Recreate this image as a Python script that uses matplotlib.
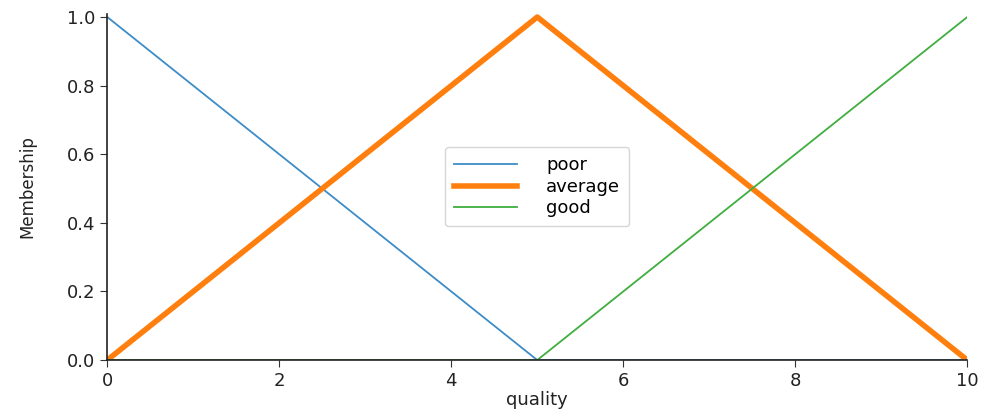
import matplotlib
matplotlib.use("Agg")
import matplotlib.pyplot as plt

# membership functions over the quality universe
quality = [0, 5, 10]
poor = [1.0, 0.0, 0.0]
average = [0.0, 1.0, 0.0]
good = [0.0, 0.0, 1.0]

fig = plt.figure(figsize=(9.84, 4.12), dpi=100)
ax = fig.add_axes([0.109, 0.126, 0.874, 0.841])

ax.plot(quality, poor, color="#3d8cc8", lw=1.3, label="poor")
ax.plot(quality, average, color="#ff7f0e", lw=4, label="average")
ax.plot(quality, good, color="#3fae3f", lw=1.3, label="good")

ax.set_xlim(0, 10)
ax.set_ylim(0, 1.01)
ax.set_xticks([0, 2, 4, 6, 8, 10])
ax.set_yticks([0.0, 0.2, 0.4, 0.6, 0.8, 1.0])
ax.tick_params(labelsize=13, length=5, colors="#333333", labelcolor="#222222")

ax.spines["top"].set_visible(False)
ax.spines["right"].set_visible(False)
for s in ["left", "bottom"]:
    ax.spines[s].set_linewidth(1.2)
    ax.spines[s].set_color("#222222")

ax.set_xlabel("quality", fontsize=13, color="#222222", labelpad=1)
ax.set_ylabel("Membership", fontsize=12, color="#222222", labelpad=22)

ax.legend(loc="center", fontsize=13, handlelength=3.5, handletextpad=1.6,
          labelspacing=0.2, borderpad=0.5)

fig.savefig("out.png", dpi=100)
